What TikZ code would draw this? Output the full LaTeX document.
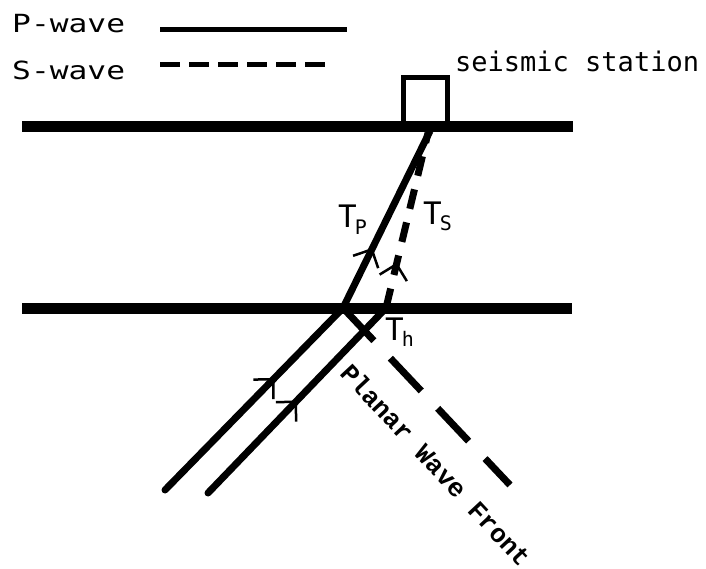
\documentclass[tikz,border=0pt]{standalone}
\usepackage{fontspec}
\newfontfamily\monosans{DejaVu Sans Mono}
\newfontfamily\widemono{DejaVu Sans Mono}[FakeStretch=1.25]
\newfontfamily\typewriter{Liberation Mono}
\usetikzlibrary{arrows.meta,decorations.markings}
\newcommand{\tlabel}[1]{T\kern-2pt{\fontsize{20}{20}\selectfont\raisebox{-6pt}{#1}}}
\tikzset{
    layer/.style={line width=11pt},
    pray/.style={line width=7pt},
    sray/.style={line width=7pt, dash pattern=on 20pt off 14pt},
    midarrow/.style={postaction={decorate},
        decoration={markings, mark=at position #1 with
        {\arrow[line width=2.5pt]{Straight Barb[length=14pt,width=28pt]}}}},
    legendtext/.style={font=\widemono\fontsize{25}{25}\selectfont, inner sep=0pt, anchor=base west},
    stationtext/.style={font=\monosans\fontsize{27}{27}\selectfont, inner sep=0pt, anchor=base west},
    timelabel/.style={font=\monosans\fontsize{31}{31}\selectfont, inner sep=0pt, anchor=base west}
}
\begin{document}
\begin{tikzpicture}[x=1pt,y=-1pt]
    \useasboundingbox (0,0) rectangle (706,569);
    % legend
    \node[legendtext] (pwave) at (12,33) {P-wave};
    \node[legendtext] (swave) at (12,80) {S-wave};
    \draw[line width=5pt] (160,30) -- (347,30);
    \draw[line width=5pt, dash pattern=on 20pt off 9pt] (160,65) -- (325,65);
    % layers
    \draw[layer] (22,127) -- (573,127);
    \draw[layer] (22,308) -- (572,308);
    % station
    \draw[line width=5pt] (403,127) rectangle (447,78);
    \node[stationtext] (station) at (455,72) {seismic station};
    \coordinate (base) at (430,131);
    \coordinate (pin) at (343,308);
    \coordinate (sin) at (386,308);
    % rays
    \draw[pray, midarrow=0.34] (pin) -- (base);
    \draw[sray, midarrow=0.26] (sin) -- (428,133);
    \draw[pray, line cap=round, midarrow=0.615] (165,490) -- (pin);
    \draw[pray, line cap=round, midarrow=0.5] (208,493) -- (sin);
    % wave front
    \draw[line width=7pt, dash pattern=on 45pt off 24pt] (pin) -- (510,485);
    \node[rotate=-47, font=\typewriter\bfseries\fontsize{26}{26}\selectfont] (front) at (436,465) {Planar Wave Front};
    % labels
    \node[timelabel] (tp) at (338,228) {\tlabel{P}};
    \node[timelabel] (ts) at (423,225) {\tlabel{S}};
    \node[timelabel] (th) at (385,340) {\tlabel{h}};
\end{tikzpicture}
\end{document}
